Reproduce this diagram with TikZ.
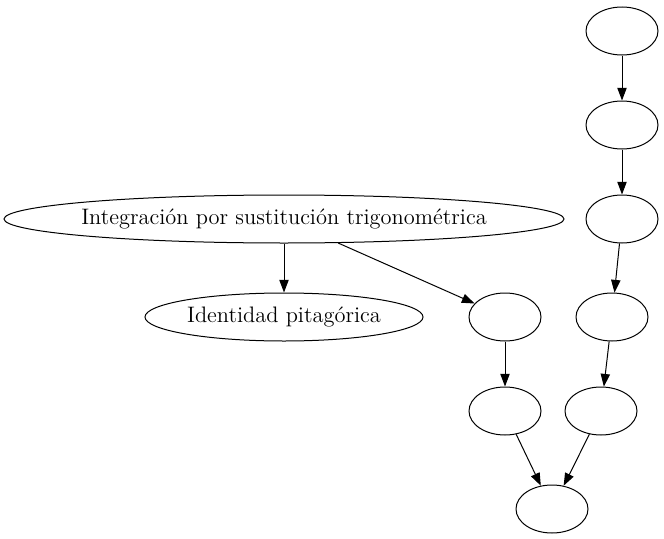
\documentclass[tikz,border=0pt]{standalone}
\usepackage{fontspec}
\setmainfont{lmroman12-regular.otf}
\usepackage{xcolor}
\usepackage{tikz}
\usetikzlibrary{arrows.meta, positioning, shapes.geometric}

\begin{document}
\begin{tikzpicture}[
  x=0.75pt, y=-0.75pt,
  ovalo/.style={draw, ellipse, inner ysep=0pt, inner xsep=-15pt, line width=0.75pt,
                minimum width=54pt, minimum height=36pt, font=\fontsize{16.8}{19}\selectfont},
  ancho/.style={ovalo, minimum width=#1*0.75pt},
  flecha/.style={-{Triangle[length=9.5pt, width=7pt]}, line width=0.75pt}
]
\useasboundingbox (0,0) rectangle (664,539);

\node[ancho=560] (integ) at (284,219) {Integración por sustitución trigonométrica};
\node[ancho=278] (ident) at (284,317) {Identidad pitagórica};

\node[ovalo] (a) at (622,31) {};
\node[ovalo] (b) at (622,125) {};
\node[ovalo] (c) at (622,219) {};
\node[ovalo] (d) at (612,317) {};
\node[ovalo] (e) at (601,411) {};
\node[ovalo] (g) at (505,317) {};
\node[ovalo] (h) at (505,411) {};
\node[ovalo] (f) at (552,509) {};

\draw[flecha] (a) -- (b);
\draw[flecha] (b) -- (c);
\draw[flecha] (c) -- (d);
\draw[flecha] (d) -- (e);
\draw[flecha] (e) -- (f);
\draw[flecha] (integ) -- (ident);
\draw[flecha] (integ) -- (g);
\draw[flecha] (g) -- (h);
\draw[flecha] (h) -- (f);
\end{tikzpicture}
\end{document}
